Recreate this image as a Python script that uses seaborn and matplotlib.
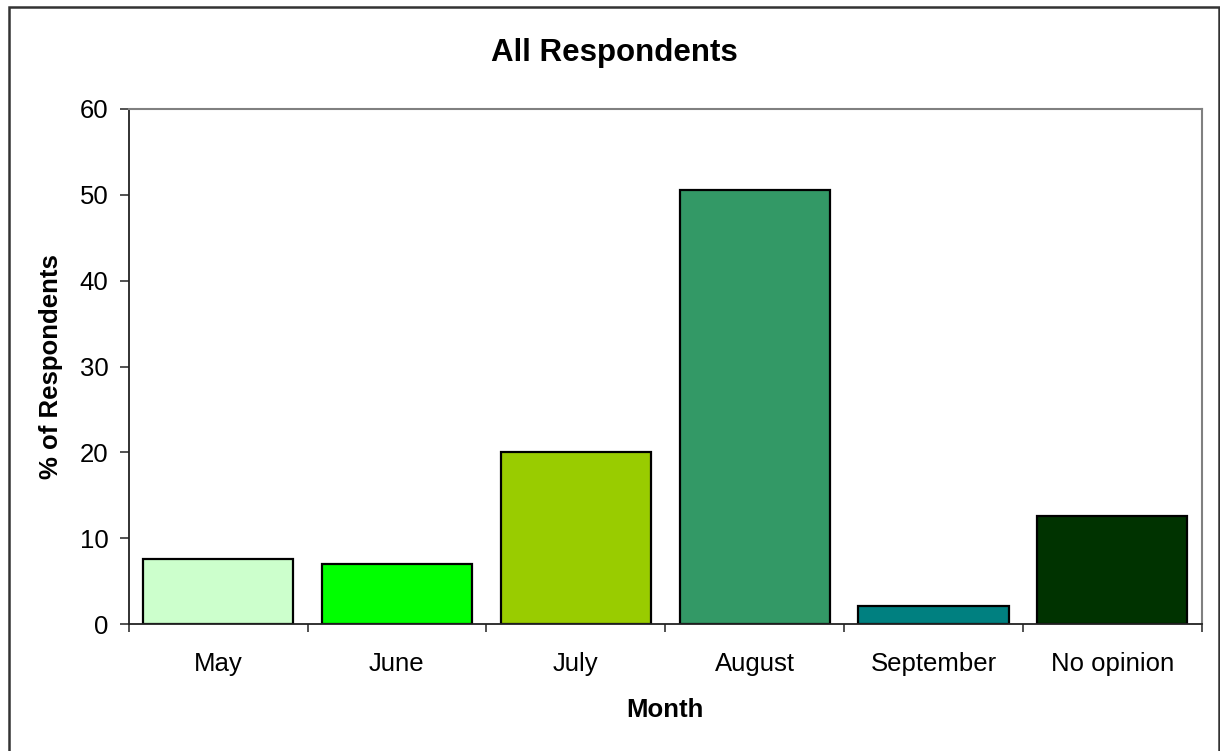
import matplotlib
matplotlib.use("Agg")
import matplotlib.pyplot as plt
from matplotlib.patches import Rectangle
import seaborn as sns
import pandas as pd

months = ["May", "June", "July", "August", "September", "No opinion"]
percent = [7.6, 7.0, 20.0, 50.5, 2.1, 12.6]
bar_colors = ["#CCFFCC", "#00FF00", "#99CC00", "#339966", "#008080", "#003300"]
y_ticks = [0, 10, 20, 30, 40, 50, 60]

sns.set_theme(style="white")
plt.rcParams["font.family"] = ["Liberation Sans", "DejaVu Sans"]
plt.rcParams.update({"text.color": "black", "axes.labelcolor": "black",
                     "xtick.color": "black", "ytick.color": "black"})

df = pd.DataFrame({"Month": months, "Percent": percent})

fig = plt.figure(figsize=(12.2, 7.51), dpi=100)
ax = fig.add_axes([128.7 / 1220, 1 - 624.3 / 751, (1201.7 - 128.7) / 1220, (624.3 - 108.7) / 751])

sns.barplot(data=df, x="Month", y="Percent", hue="Month", palette=bar_colors,
            order=months, hue_order=months, width=0.84, edgecolor="black",
            linewidth=1.6, legend=False, ax=ax, saturation=1)

ax.set_xlim(-0.5, len(months) - 0.5)
ax.set_ylim(0, 60)
ax.set_yticks(y_ticks)
ax.set_yticklabels([str(t) for t in y_ticks], fontsize=18.5)

# category boundaries carry the tick marks; labels sit at the centres
ax.set_xticks([i - 0.5 for i in range(len(months) + 1)])
ax.set_xticklabels([""] * (len(months) + 1))
ax.set_xticks(range(len(months)), minor=True)
ax.set_xticklabels(months, minor=True, fontsize=18.5)
ax.tick_params(axis="x", which="minor", length=0, pad=20)
ax.tick_params(axis="x", which="major", direction="out", length=6, width=1.2,
               color="#333333", bottom=True)
ax.tick_params(axis="y", direction="out", length=6.5, width=1.2,
               color="#333333", left=True, pad=8)

for side in ["top", "right"]:
    ax.spines[side].set_color("#808080")
    ax.spines[side].set_linewidth(1.5)
for side in ["left", "bottom"]:
    ax.spines[side].set_color("#222222")
    ax.spines[side].set_linewidth(1.3)

ax.set_xlabel("Month", fontsize=18.5, fontweight="bold", labelpad=16)
ax.set_ylabel("% of Respondents", fontsize=18.5, fontweight="bold", labelpad=12)
fig.text(614 / 1220, 1 - 53 / 751, "All Respondents", fontsize=22.5,
         fontweight="bold", ha="center", va="center")

# chart area frame
fig.patches.append(Rectangle((8.5 / 1220, -0.02), (1219 - 8.5) / 1220, 1 - 6.5 / 751 + 0.02,
                             transform=fig.transFigure, fill=False,
                             edgecolor="#333333", linewidth=1.8, zorder=0))

fig.savefig("out.png", dpi=100)
